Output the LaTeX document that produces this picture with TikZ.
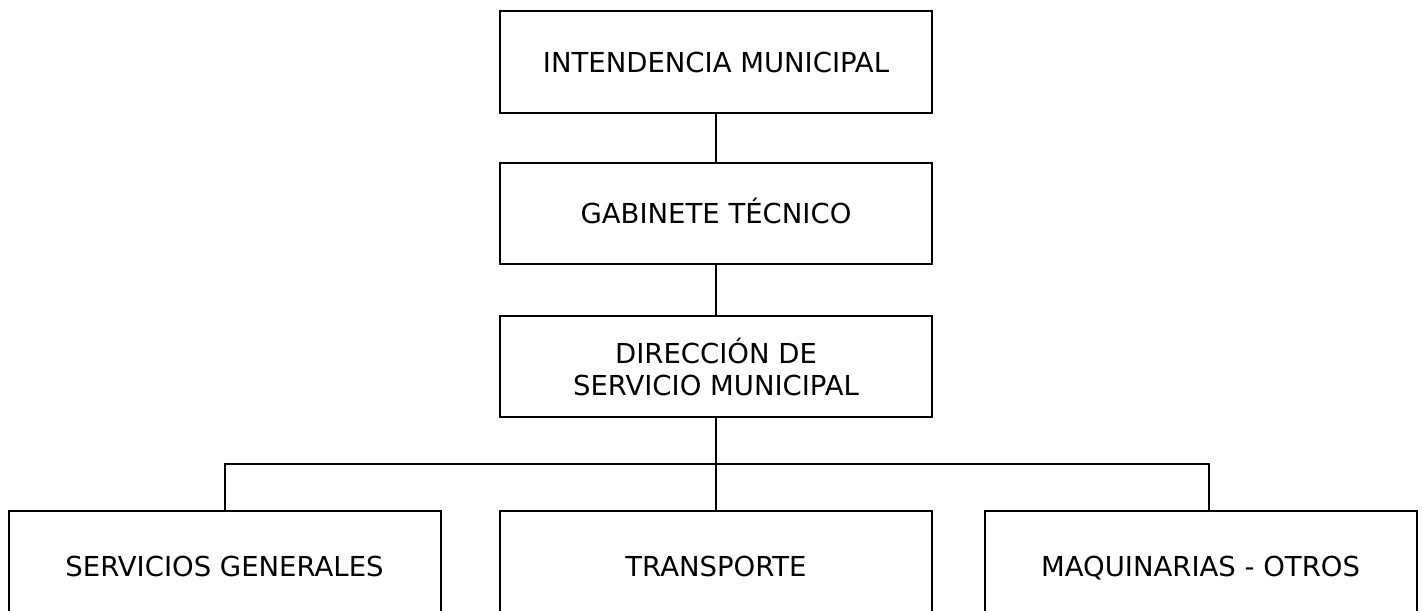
\documentclass[tikz,border=0pt]{standalone}
\usepackage{fontspec}
\setmainfont{DejaVu Sans}
\usepackage{tikz}
\usetikzlibrary{positioning}
\tikzset{
    unitbox/.style = {rectangle, draw=black, line width=2pt, align=center, minimum width=432pt, minimum height=101pt, inner sep=0pt},
    onerow/.style = {unitbox, text height=20pt, text depth=0pt},
    lowbox/.style = {onerow, minimum height=110pt},
    edgen/.style = {-, line width=2pt},
}
\begin{document}
\begin{tikzpicture}[
	x=1pt, y=1pt,
	font=\fontsize{27.5}{32}\selectfont
]
\useasboundingbox (0,0) rectangle (1423,-610);
\node[onerow] at (716,-62.0) (int) {INTENDENCIA MUNICIPAL};
\node[onerow] at (716,-213.5) (gab) {GABINETE TÉCNICO};
\node[unitbox] at (716,-366.5) (dir) {DIRECCIÓN DE\\SERVICIO MUNICIPAL};
\node[lowbox] at (224.5,-566) (sg) {SERVICIOS GENERALES};
\node[lowbox] at (716,-566) (tr) {TRANSPORTE};
\node[lowbox] at (1200.5,-566) (mq) {MAQUINARIAS - OTROS};
\coordinate (jl) at (225,-463.5);
\coordinate (jr) at (1209,-463.5);
%
\draw[edgen] (int) -- (gab);
\draw[edgen] (gab) -- (dir);
\draw[edgen] (dir) -- (tr);
%
\draw[edgen] (jl |- sg.north) -- (jl) -- (jr) -- (jr |- mq.north);
\end{tikzpicture}
\end{document}
